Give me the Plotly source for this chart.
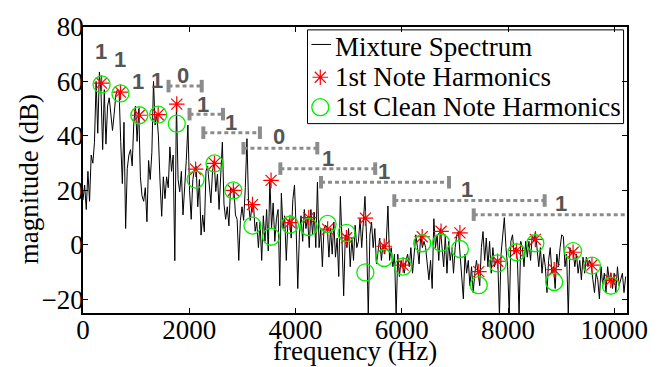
import plotly.graph_objects as go

# ---------------- data ----------------
BIN_HZ = 30.86  # spacing of the (hand-read) spectrum samples

spectrum_db = [
    # 0 - 1574 Hz
    16.5, 22, 13, 27, 16, 33, 30, 37.7, 60, 41, 63.5, 56, 35, 57, 37, 51, 54, 47, 42, 48,
    55, 57, 56.5, 38, 22.5, 45, 6, 28, 33, 35, 29, 45, 51, 38, 50, 25, 18, 16, 21, 8.5,
    31, 24, 34, 60, 44, 48, 40, 23, 10.5, 25, 17, 25,
    # 1605 - 3240 Hz
    21, 36, 27, 33, -5.8, 52.5, 24, 19.5, 27, 11, 19.6, 31, 44, 20, 9.4, 24, 28, 29, 14, 24,
    3.6, 11, 4.8, 27, 29, 21, 15.4, 27, 31, 19.6, 26, 13, 27, 37.7, 15, 9.4, 14, 7, 21, 19.6,
    21, 11, 9.4, -5.7, 9, 14, 9, 21, 39, 15, 9, 14, 15, 5,
    # 3271 - 4907 Hz
    8.4, -1, 8.4, -5.7, 10.7, 1.3, 13, -2.2, 24, 6, 15.4, 1.3, 9.6, 13, -15, 19, 6, 10.7, -5.7, 8.4,
    9.6, 2.5, 16.6, 22, 6, -16, 3.7, 10.7, 1.3, 13, 6, 10.4, -1, 13, 3.7, 12, -1, 23, -1, 6,
    -8, 6, 7.2, 6.3, -4.5, 6, -3.4, 8.4, -4.5, 2.5, -11.6, 17.8, 1.3, -18.7,
    # 4938 - 6573 Hz
    3.7, -1, 6, -8, 2.5, -5.7, 7.2, -1, 1.3, 9.6, -1, 10.7, 17.8, 2, -26, 3.7, 8.4, -1, 6, -7,
    -1, 2.5, -5.7, 0.2, -3.4, 1.3, 14.3, -5.7, -1, -8, -3.4, -26, -3.4, -11.6, -5.7, -8, -10.4, -5.7, -3.4, -8,
    -1, -10.4, -3.4, 3.7, -1, -7, 3.7, -1, 1.3, -1, -7, -12.8, -5.7, -16,
    # 6604 - 8240 Hz
    9.6, -1, 3.7, -5.7, 6, -1, -8, 3.7, -10.4, 1.3, -5.7, -1, -10.4, -1, 3.7, 4.9, -3.4, -8, -19.8, -3.4,
    -10.4, -5.7, -15, -8, -17.5, -10.4, -5.7, -10.4, -15, -1, 4.9, -5.7, 2.5, -8, 1.3, -10.4, -1, -8, -5.7, -5.7,
    -26, -3.4, 3.7, 10, -1, -8, -26, 1.3, 3.7, -3.4, -1, -5.7, -26, 1.3,
    # 8271 - 10215 Hz
    -1, -8, 1.3, -4.5, 1.3, -5.7, 3.7, 1.3, 4.9, -3.4, -8, -1, -10.4, -3.4, -8, -17.5, -5.7, -1, -10.4, -8,
    -16, -3.4, -8, -1, 3.7, 3.1, -8, -3.4, -26, -1, -3.4, -2.2, -8, -3.4, -10.4, -5.7, -12.8, -4.5, -10.4, -4.5,
    -8, -5.7, -7, -12.8, -17.5, -10.4, -12.8, -19.8, -8, -15, -10.4, -17.5, -8, -12.8, -10.4, -16, -10.4, -17.5, -8, -15,
    -12.8, -10.4, -17.5, -11.6,
]
freq_hz = [i * BIN_HZ for i in range(len(spectrum_db))]

harmonic_hz = [350, 705, 1060, 1415, 1765, 2120, 2475, 2830, 3190, 3540, 3895, 4250, 4605, 4960,
               5315, 5670, 6025, 6385, 6740, 7095, 7450, 7805, 8160, 8515, 8870, 9225, 9580, 9935]
note_db = [59.4, 56.1, 47.6, 47.8, 51.7, 27.8, 29.9, 20.0, 14.8, 23.7, 8.2, 10.0, 5.8, 2.6,
           9.8, -0.5, -7.4, 3.0, 5.0, 4.4, -9.8, -6.0, -2.1, 2.0, -9.1, -2.7, -7.4, -13.0]
clean_db = [58.9, 55.6, 47.6, 47.8, 44.5, 24.0, 29.9, 20.0, 7.1, 3.0, 7.4, 6.6, 7.7, 4.4,
            -10.1, -4.8, -8.0, 0.6, 0.8, -1.5, -14.8, -6.8, -2.7, 0.6, -13.6, -2.3, -7.6, -15.0]

# dotted interval brackets
int_start_hz = [1610, 2005, 2265, 3020, 3715, 4480, 5860, 7355]
int_end_hz = [2235, 2635, 3330, 4410, 5500, 6890, 8690, 10400]
int_level_db = [58.3, 48.0, 41.2, 35.5, 28.0, 23.0, 16.3, 11.1]
int_label = ["0", "1", "1", "0", "1", "1", "1", "1"]
int_label_hz = [1875, 2260, 2780, 3685, 4605, 5670, 7235, 8990]
int_label_db = [62.2, 51.7, 44.8, 39.7, 31.8, 26.8, 20.3, 15.2]

# labels without brackets
solo_label = ["1", "1", "1", "1"]
solo_hz = [333, 690, 1043, 1400]
solo_db = [71.1, 68.2, 59.9, 60.3]

x_ticks = [0, 2000, 4000, 6000, 8000, 10000]
x_tick_text = ["0", "2000", "4000", "6000", "8000", "10000"]
y_ticks = [-20, 0, 20, 40, 60, 80]

series_names = ["Mixture Spectrum", "1st Note Harmonics", "1st Clean Note Harmonics"]

# ---------------- style ----------------
SERIF = "Liberation Serif"
FS = 27
GRAY = "#8c8c8c"
LABEL_GRAY = "#555555"
BAR_HALF = 2.3
RED = "#ff0000"
GREEN = "#00ee00"
STAR = dict(symbol="asterisk-open", size=13, color=RED, line=dict(color=RED, width=1.2))
RING = dict(symbol="circle-open", size=17, color=GREEN, line=dict(color=GREEN, width=1.3))

fig = go.Figure()
fig.add_trace(go.Scatter(x=freq_hz, y=spectrum_db, mode="lines", name=series_names[0],
                         line=dict(color="black", width=1), showlegend=False))
fig.add_trace(go.Scatter(x=harmonic_hz, y=note_db, mode="markers", name=series_names[1],
                         marker=STAR, showlegend=False))
fig.add_trace(go.Scatter(x=harmonic_hz, y=clean_db, mode="markers", name=series_names[2],
                         marker=RING, showlegend=False))

dot_x, dot_y, bar_x, bar_y = [], [], [], []
for s, e, lv in zip(int_start_hz, int_end_hz, int_level_db):
    dot_x += [s, e, None]
    dot_y += [lv, lv, None]
    bar_x += [s, s, None, e, e, None]
    bar_y += [lv - BAR_HALF, lv + BAR_HALF, None, lv - BAR_HALF, lv + BAR_HALF, None]
fig.add_trace(go.Scatter(x=dot_x, y=dot_y, mode="lines", showlegend=False, hoverinfo="skip",
                         line=dict(color=GRAY, width=3, dash="4px,3px")))
fig.add_trace(go.Scatter(x=bar_x, y=bar_y, mode="lines", showlegend=False, hoverinfo="skip",
                         line=dict(color=GRAY, width=4)))

for txt, xh, yd in list(zip(int_label, int_label_hz, int_label_db)) + list(zip(solo_label, solo_hz, solo_db)):
    fig.add_annotation(x=xh, y=yd, xref="x", yref="y", text=txt, showarrow=False,
                       font=dict(family="Liberation Sans", size=22, color=LABEL_GRAY, weight="bold"))

# ---------------- legend box (drawn in paper space) ----------------
LEG_X0, LEG_X1, LEG_Y0, LEG_Y1 = 0.4127, 0.9937, 0.6622, 0.9899
LEG_SYM_X, LEG_TXT_X = 0.4362, 0.4597
LEG_ROWS = [0.931, 0.8243, 0.7196]
fig.add_shape(type="rect", xref="paper", yref="paper", x0=LEG_X0, x1=LEG_X1, y0=LEG_Y0, y1=LEG_Y1,
              line=dict(color="black", width=1), fillcolor="white", layer="below")
fig.add_shape(type="line", xref="paper", yref="paper", x0=0.4199, x1=0.4561,
              y0=LEG_ROWS[0] + 0.008, y1=LEG_ROWS[0] + 0.008, line=dict(color="black", width=1), layer="above")
for name, yr in zip(series_names, LEG_ROWS):
    fig.add_annotation(x=LEG_TXT_X, y=yr, xref="paper", yref="paper", text=name, showarrow=False,
                       xanchor="left", yanchor="middle", font=dict(family=SERIF, size=FS, color="black"))
fig.add_trace(go.Scatter(x=[LEG_SYM_X], y=[LEG_ROWS[1]], xaxis="x2", yaxis="y2", mode="markers",
                         marker=STAR, showlegend=False, hoverinfo="skip"))
fig.add_trace(go.Scatter(x=[LEG_SYM_X], y=[LEG_ROWS[2]], xaxis="x2", yaxis="y2", mode="markers",
                         marker=RING, showlegend=False, hoverinfo="skip"))

# axis titles
fig.add_annotation(x=0.5, y=-0.134, xref="paper", yref="paper", text="frequency (Hz)", showarrow=False,
                   xanchor="center", yanchor="middle", borderpad=0,
                   font=dict(family=SERIF, size=FS, color="black"))
fig.add_annotation(x=-0.1, y=0.466, xref="paper", yref="paper", text="magnitude (dB)", showarrow=False,
                   textangle=-90, xanchor="center", yanchor="middle",
                   font=dict(family=SERIF, size=FS, color="black"))

axis_common = dict(showline=True, linecolor="black", linewidth=1.5, mirror="ticks", ticks="inside",
                   ticklen=5, tickcolor="black", tickwidth=1, showgrid=False, zeroline=False,
                   tickfont=dict(family=SERIF, size=FS, color="black"))
fig.update_xaxes(range=[0, 10240], tickvals=x_ticks, ticktext=x_tick_text, ticklabelstandoff=-8,
                 **axis_common)
fig.update_yaxes(range=[-25, 80], tickvals=y_ticks, ticklabelstandoff=-8, **axis_common)

fig.update_layout(
    width=660, height=367,
    margin=dict(l=83, r=24, t=17, b=54),
    paper_bgcolor="white", plot_bgcolor="white",
    showlegend=False,
    xaxis2=dict(range=[0, 1], overlaying="x", visible=False, anchor="y2"),
    yaxis2=dict(range=[0, 1], overlaying="y", visible=False, anchor="x2"),
)

fig.write_html("out.html", config={"displayModeBar": False},
               post_script="document.body.style.margin='0';")
